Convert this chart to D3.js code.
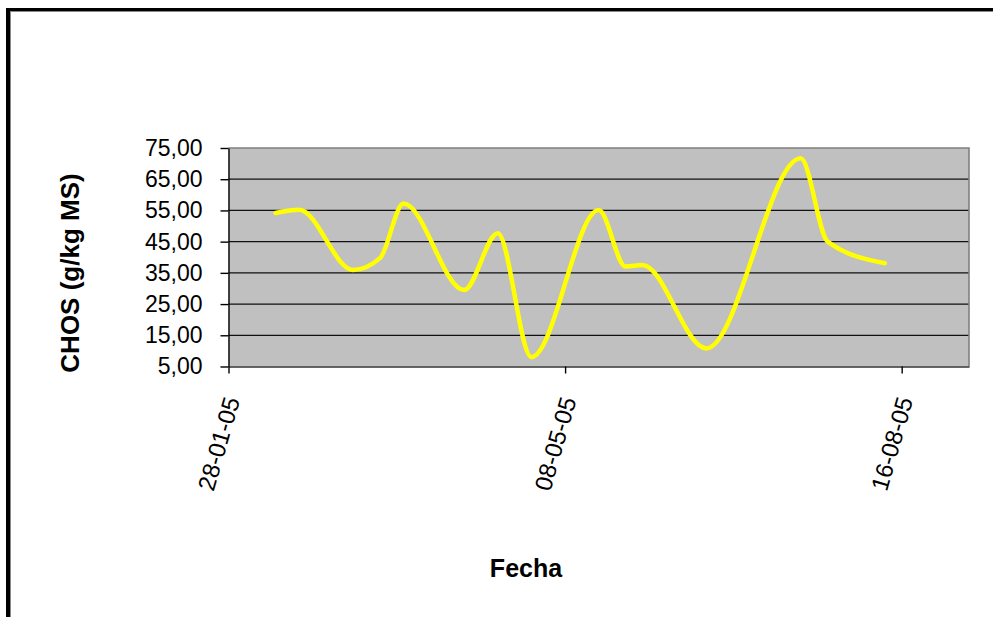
<!DOCTYPE html>
<html>
<head>
<meta charset="utf-8">
<script src="https://cdn.jsdelivr.net/npm/d3@7"></script>
<style>
  body { margin: 0; background: #fff; }
  svg { display: block; }
  text { font-family: "Liberation Sans", Arial, sans-serif; }
</style>
</head>
<body>
<svg id="chart" width="993" height="617"></svg>
<script>
// Sampling dates and CHOS concentration (g/kg MS)
const sampleDates = [
  "2005-02-11", "2005-02-18", "2005-03-06", "2005-03-14", "2005-03-21",
  "2005-04-08", "2005-04-18", "2005-04-28", "2005-05-18", "2005-05-26",
  "2005-05-31", "2005-06-19", "2005-07-17", "2005-07-25", "2005-08-11"
];
const chosValues = [
  54.2, 55.2, 35.9, 39.7, 57.2,
  29.5, 47.7, 8.0, 55.1, 37.0,
  37.5, 10.8, 71.7, 45.0, 38.1
];
const xDomain = ["2005-01-28", "2005-09-05"];
const xTickDates = ["2005-01-28", "2005-05-08", "2005-08-16"];
const yTickValues = [5, 15, 25, 35, 45, 55, 65, 75];

const parse = d3.utcParse("%Y-%m-%d");
const data = sampleDates.map((d, i) => ({ date: parse(d), value: chosValues[i] }));

const svg = d3.select("#chart");
const plot = { left: 228.5, right: 969, top: 148, bottom: 366.5 };

const x = d3.scaleUtc()
  .domain(xDomain.map(parse))
  .range([plot.left, plot.right]);
const y = d3.scaleLinear()
  .domain([5, 75])
  .range([plot.bottom, plot.top]);

// Outer frame (top and left edges)
svg.append("rect").attr("x", 6).attr("y", 8).attr("width", 4).attr("height", 609).attr("fill", "#000");
svg.append("rect").attr("x", 6).attr("y", 8).attr("width", 987).attr("height", 3).attr("fill", "#000");
svg.append("rect").attr("x", 10).attr("y", 11).attr("width", 1).attr("height", 606).attr("fill", "#8a8a8a");
svg.append("rect").attr("x", 10).attr("y", 11).attr("width", 983).attr("height", 1).attr("fill", "#8a8a8a");

// Plot area
svg.append("rect")
  .attr("x", plot.left).attr("y", plot.top)
  .attr("width", plot.right - plot.left).attr("height", plot.bottom - plot.top)
  .attr("fill", "#c0c0c0");

// Horizontal gridlines
svg.append("g")
  .selectAll("line")
  .data(yTickValues.filter(v => v > 5 && v < 75))
  .join("line")
  .attr("x1", plot.left).attr("x2", plot.right)
  .attr("y1", d => y(d)).attr("y2", d => y(d))
  .attr("stroke", "#111").attr("stroke-width", 1.2);

// Plot border (top and right)
svg.append("path")
  .attr("d", `M${plot.left},${plot.top}H${plot.right}V${plot.bottom}`)
  .attr("fill", "none").attr("stroke", "#808080").attr("stroke-width", 1.6);

// Smoothed series line
const line = d3.line()
  .x(d => x(d.date))
  .y(d => y(d.value))
  .curve(d3.curveMonotoneX);
svg.append("path")
  .datum(data)
  .attr("d", line)
  .attr("fill", "none")
  .attr("stroke", "#ffff00")
  .attr("stroke-width", 4.5)
  .attr("stroke-linecap", "round")
  .attr("stroke-linejoin", "round");

// Y axis
const comma = d3.formatLocale({ decimal: ",", thousands: ".", grouping: [3], currency: ["", ""] });
const yAxis = d3.axisLeft(y)
  .tickValues(yTickValues)
  .tickFormat(comma.format(".2f"))
  .tickSize(8)
  .tickSizeOuter(0)
  .tickPadding(18);
const gy = svg.append("g")
  .attr("transform", `translate(${plot.left},0)`)
  .call(yAxis);
gy.select(".domain").attr("stroke", "#000").attr("stroke-width", 1.4);
gy.selectAll(".tick line").attr("stroke", "#000").attr("stroke-width", 1.4);
gy.selectAll(".tick text")
  .attr("font-size", 23)
  .attr("fill", "#000")
  .attr("font-family", "Liberation Sans, Arial, sans-serif");

// X axis
const xAxis = d3.axisBottom(x)
  .tickValues(xTickDates.map(parse))
  .tickFormat(d3.utcFormat("%d-%m-%y"))
  .tickSize(7)
  .tickSizeOuter(0);
const gx = svg.append("g")
  .attr("transform", `translate(0,${plot.bottom})`)
  .call(xAxis);
gx.select(".domain").attr("stroke", "#333").attr("stroke-width", 1.6);
gx.selectAll(".tick line").attr("stroke", "#000").attr("stroke-width", 1.4);
gx.selectAll(".tick text")
  .attr("font-size", 24)
  .attr("fill", "#000")
  .attr("font-family", "Liberation Sans, Arial, sans-serif")
  .attr("text-anchor", "end")
  .attr("y", 0)
  .attr("dy", "0.35em")
  .attr("transform", "translate(3,31) rotate(-74)");

// Axis titles
svg.append("text")
  .attr("transform", "translate(79,273) rotate(-90)")
  .attr("text-anchor", "middle")
  .attr("font-size", 26)
  .attr("font-weight", "bold")
  .text("CHOS (g/kg MS)");

svg.append("text")
  .attr("x", 526)
  .attr("y", 577)
  .attr("text-anchor", "middle")
  .attr("font-size", 25)
  .attr("font-weight", "bold")
  .text("Fecha");
</script>
</body>
</html>
